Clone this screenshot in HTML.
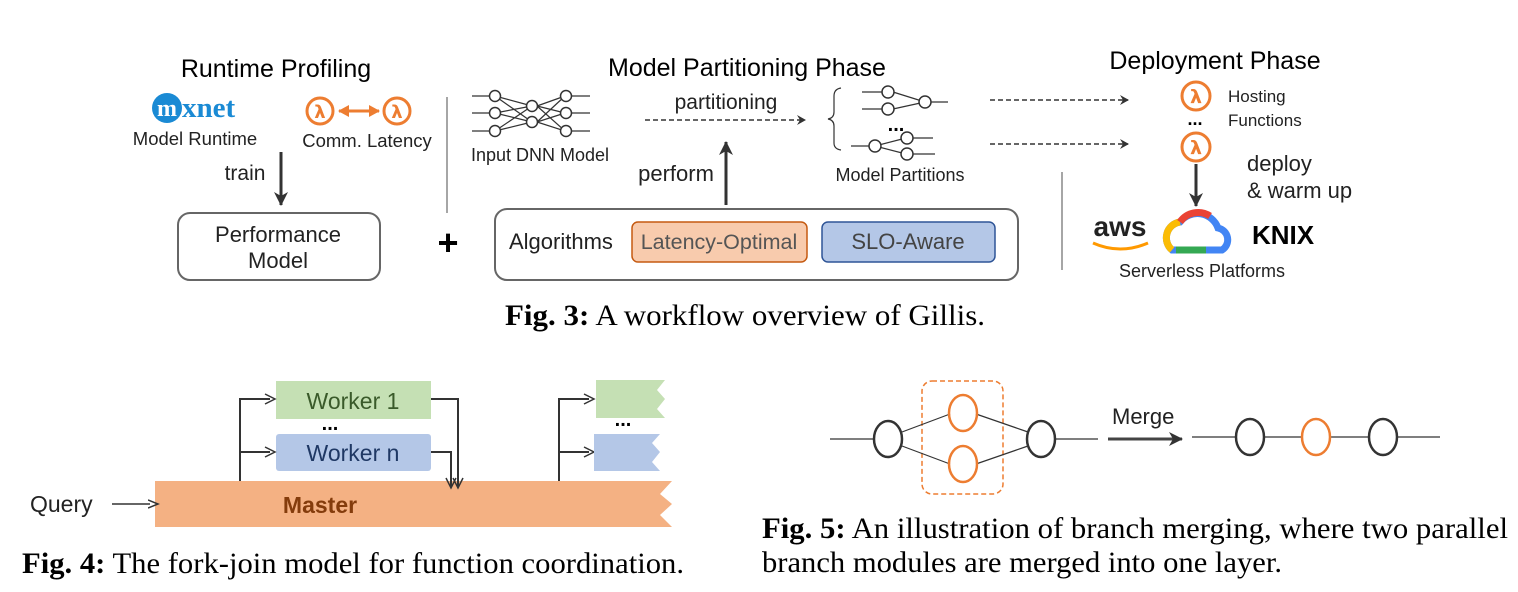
<!DOCTYPE html>
<html><head><meta charset="utf-8"><style>body{margin:0;background:#fff}svg{display:block}</style></head><body>
<svg width="1518" height="592" viewBox="0 0 1518 592" xmlns="http://www.w3.org/2000/svg" font-family="Liberation Sans, sans-serif">
<defs>
<marker id="a" markerWidth="10" markerHeight="10" refX="8" refY="5" orient="auto" markerUnits="userSpaceOnUse"><path d="M0,0 L9,5 L0,10 L3,5z" fill="#333"/></marker>
<marker id="b" markerWidth="16" markerHeight="16" refX="13" refY="8" orient="auto" markerUnits="userSpaceOnUse"><path d="M0,1 L14,8 L0,15 L4,8z" fill="#333"/></marker>
<marker id="o" markerWidth="12" markerHeight="12" refX="10" refY="6" orient="auto-start-reverse" markerUnits="userSpaceOnUse"><path d="M0,0 L11,6 L0,12z" fill="#ed7d31"/></marker>
<marker id="s" markerWidth="12" markerHeight="12" refX="2" refY="6" orient="auto" markerUnits="userSpaceOnUse"><path d="M0,2 L10,6 L0,10" fill="none" stroke="#333" stroke-width="1.5"/></marker>
</defs>
<!-- Fig 3 -->
<text x="276" y="77" font-size="25" text-anchor="middle">Runtime Profiling</text>
<circle cx="167" cy="108" r="15" fill="#1a8ad4"/>
<text x="167" y="116" font-size="24" font-weight="bold" fill="#fff" text-anchor="middle" font-family="Liberation Serif, serif">m</text>
<text x="182" y="117" font-size="29" font-weight="bold" fill="#1a8ad4" font-family="Liberation Serif, serif">xnet</text>
<text x="195" y="145" font-size="18.5" text-anchor="middle" fill="#222">Model Runtime</text>
<g fill="none" stroke="#ed7d31" stroke-width="3"><circle cx="320" cy="111" r="13"/><circle cx="397" cy="111" r="13"/></g>
<text x="320" y="118" font-size="18" font-weight="bold" fill="#ed7d31" text-anchor="middle" font-family="DejaVu Sans, sans-serif">λ</text>
<text x="397" y="118" font-size="18" font-weight="bold" fill="#ed7d31" text-anchor="middle" font-family="DejaVu Sans, sans-serif">λ</text>
<line x1="339" y1="111" x2="379" y2="111" stroke="#ed7d31" stroke-width="3" marker-start="url(#o)" marker-end="url(#o)"/>
<text x="367" y="147" font-size="18.5" text-anchor="middle" fill="#222">Comm. Latency</text>
<text x="245" y="180" font-size="21" text-anchor="middle" fill="#222">train</text>
<line x1="281" y1="152" x2="281" y2="205" stroke="#333" stroke-width="3" marker-end="url(#b)"/>
<rect x="178" y="213" width="202" height="67" rx="12" fill="none" stroke="#666" stroke-width="2"/>
<text x="278" y="242" font-size="22" text-anchor="middle" fill="#222">Performance</text>
<text x="278" y="268" font-size="22" text-anchor="middle" fill="#222">Model</text>
<line x1="447" y1="97" x2="447" y2="213" stroke="#888" stroke-width="1.5"/>
<text x="448" y="255" font-size="36" font-weight="bold" text-anchor="middle">+</text>
<!-- input DNN -->
<g stroke="#333" stroke-width="1.2" fill="none">
<line x1="472" y1="96" x2="490" y2="96"/><line x1="472" y1="113" x2="490" y2="113"/><line x1="472" y1="131" x2="490" y2="131"/>
<line x1="495" y1="96" x2="532" y2="106"/><line x1="495" y1="96" x2="532" y2="122"/><line x1="495" y1="113" x2="532" y2="106"/><line x1="495" y1="113" x2="532" y2="122"/><line x1="495" y1="131" x2="532" y2="106"/><line x1="495" y1="131" x2="532" y2="122"/>
<line x1="537" y1="106" x2="565" y2="96"/><line x1="537" y1="106" x2="565" y2="113"/><line x1="537" y1="106" x2="565" y2="131"/><line x1="537" y1="122" x2="565" y2="96"/><line x1="537" y1="122" x2="565" y2="113"/><line x1="537" y1="122" x2="565" y2="131"/>
<line x1="570" y1="96" x2="590" y2="96"/><line x1="570" y1="113" x2="590" y2="113"/><line x1="570" y1="131" x2="590" y2="131"/>
</g>
<g stroke="#333" stroke-width="1.5" fill="#fff"><circle cx="495" cy="96" r="5.5"/><circle cx="495" cy="113" r="5.5"/><circle cx="495" cy="131" r="5.5"/><circle cx="532" cy="106" r="5.5"/><circle cx="532" cy="122" r="5.5"/><circle cx="566" cy="96" r="5.5"/><circle cx="566" cy="113" r="5.5"/><circle cx="566" cy="131" r="5.5"/></g>
<text x="540" y="161" font-size="18" text-anchor="middle" fill="#222">Input DNN Model</text>
<text x="747" y="76" font-size="25" text-anchor="middle">Model Partitioning Phase</text>
<text x="726" y="109" font-size="21" text-anchor="middle" fill="#222">partitioning</text>
<line x1="645" y1="120" x2="805" y2="120" stroke="#333" stroke-width="1.5" stroke-dasharray="5,3" marker-end="url(#a)"/>
<text x="676" y="181" font-size="22" text-anchor="middle" fill="#222">perform</text>
<line x1="726" y1="205" x2="726" y2="142" stroke="#333" stroke-width="3" marker-end="url(#b)"/>
<rect x="495" y="209" width="523" height="71" rx="12" fill="none" stroke="#666" stroke-width="2"/>
<text x="509" y="249" font-size="22" fill="#222">Algorithms</text>
<rect x="632" y="222" width="175" height="40" rx="6" fill="#f8cbad" stroke="#c55a11" stroke-width="1.5"/>
<text x="719" y="249" font-size="21.5" text-anchor="middle" fill="#555">Latency-Optimal</text>
<rect x="822" y="222" width="173" height="40" rx="6" fill="#b4c7e7" stroke="#2f5597" stroke-width="1.5"/>
<text x="908" y="249" font-size="22" text-anchor="middle" fill="#444">SLO-Aware</text>
<path d="M841,88 Q834,89 834,96 L834,112 Q834,118 828,119 Q834,120 834,126 L834,143 Q834,149 841,150" fill="none" stroke="#333" stroke-width="1.2"/>
<g stroke="#333" stroke-width="1.2" fill="none">
<line x1="862" y1="92" x2="888" y2="92"/><line x1="862" y1="109" x2="888" y2="109"/><line x1="893" y1="92" x2="925" y2="102"/><line x1="893" y1="109" x2="925" y2="102"/><line x1="930" y1="102" x2="948" y2="102"/>
<line x1="851" y1="146" x2="870" y2="146"/><line x1="875" y1="146" x2="906" y2="138"/><line x1="875" y1="146" x2="906" y2="154"/><line x1="910" y1="138" x2="933" y2="138"/><line x1="910" y1="154" x2="935" y2="154"/>
</g>
<g stroke="#333" stroke-width="1.5" fill="#fff"><circle cx="888" cy="92" r="6"/><circle cx="888" cy="109" r="6"/><circle cx="925" cy="102" r="6"/><circle cx="875" cy="146" r="6"/><circle cx="907" cy="138" r="6"/><circle cx="907" cy="154" r="6"/></g>
<text x="896" y="131" font-size="20" font-weight="bold" text-anchor="middle">...</text>
<text x="900" y="181" font-size="18" text-anchor="middle" fill="#222">Model Partitions</text>
<line x1="990" y1="100" x2="1128" y2="100" stroke="#333" stroke-width="1.5" stroke-dasharray="5,3" marker-end="url(#a)"/>
<line x1="990" y1="144" x2="1128" y2="144" stroke="#333" stroke-width="1.5" stroke-dasharray="5,3" marker-end="url(#a)"/>
<text x="1215" y="69" font-size="25" text-anchor="middle">Deployment Phase</text>
<g fill="none" stroke="#ed7d31" stroke-width="3"><circle cx="1196" cy="96" r="14"/><circle cx="1196" cy="147" r="14"/></g>
<text x="1196" y="103" font-size="19" font-weight="bold" fill="#ed7d31" text-anchor="middle" font-family="DejaVu Sans, sans-serif">λ</text>
<text x="1196" y="154" font-size="19" font-weight="bold" fill="#ed7d31" text-anchor="middle" font-family="DejaVu Sans, sans-serif">λ</text>
<text x="1195" y="125" font-size="18" font-weight="bold" text-anchor="middle">...</text>
<text x="1228" y="102" font-size="17" fill="#222">Hosting</text>
<text x="1228" y="126" font-size="17" fill="#222">Functions</text>
<line x1="1196" y1="164" x2="1196" y2="206" stroke="#333" stroke-width="3" marker-end="url(#b)"/>
<text x="1247" y="171" font-size="22" fill="#222">deploy</text>
<text x="1247" y="198" font-size="22" fill="#222">&amp; warm up</text>
<line x1="1062" y1="172" x2="1062" y2="270" stroke="#888" stroke-width="1.5"/>
<text x="1120" y="236" font-size="28" font-weight="bold" text-anchor="middle" fill="#222">aws</text>
<path d="M1093,243 Q1120,255 1148,243" fill="none" stroke="#f90" stroke-width="3"/>
<path d="M1172,250 a16,16 0 0 1 8,-28 a22,22 0 0 1 38,6 a12,12 0 0 1 4,22 z" fill="none" stroke="#4285f4" stroke-width="7"/>
<path d="M1172,250 a16,16 0 0 1 8,-28" fill="none" stroke="#fbbc05" stroke-width="7"/>
<path d="M1180,222 a22,22 0 0 1 30,-6" fill="none" stroke="#ea4335" stroke-width="7"/>
<path d="M1176,250 L1206,250" fill="none" stroke="#34a853" stroke-width="7"/>
<text x="1252" y="244" font-size="26" font-weight="bold">KNIX</text>
<text x="1202" y="277" font-size="18" text-anchor="middle" fill="#222">Serverless Platforms</text>
<text x="745" y="325" font-size="30" text-anchor="middle" font-family="Liberation Serif, serif" textLength="480" lengthAdjust="spacingAndGlyphs"><tspan font-weight="bold">Fig. 3:</tspan> A workflow overview of Gillis.</text>
<!-- Fig 4 -->
<rect x="276" y="381" width="155" height="38" fill="#c5e0b4"/>
<text x="353" y="409" font-size="23" text-anchor="middle" fill="#3a5a2a">Worker 1</text>
<rect x="276" y="434" width="155" height="37" rx="3" fill="#b4c7e7"/>
<text x="353" y="461" font-size="23" text-anchor="middle" fill="#1f3864">Worker n</text>
<text x="330" y="430" font-size="20" font-weight="bold" text-anchor="middle">...</text>
<path d="M155,481 L672,481 L660,494 L672,504 L660,515 L672,527 L155,527 Z" fill="#f4b183"/>
<text x="320" y="513" font-size="23" font-weight="bold" text-anchor="middle" fill="#843c0c">Master</text>
<text x="30" y="512" font-size="23" fill="#222">Query</text>
<line x1="112" y1="504" x2="150" y2="504" stroke="#333" stroke-width="1.5" marker-end="url(#s)"/>
<g fill="none" stroke="#333" stroke-width="2">
<path d="M240,481 L240,399 L270,399"/><path d="M240,452 L270,452"/>
<path d="M431,399 L458,399 L458,486"/><path d="M431,452 L451,452 L451,487"/>
<path d="M559,481 L559,399 L589,399"/><path d="M559,452 L589,452"/>
</g>
<g fill="none" stroke="#333" stroke-width="1.5"><path d="M265,394 L275,399 L265,404"/><path d="M265,447 L275,452 L265,457"/><path d="M584,394 L594,399 L584,404"/><path d="M584,447 L594,452 L584,457"/><path d="M453,478 L458,488 L463,478"/><path d="M446,478 L451,488 L456,478"/></g>
<path d="M596,380 L665,380 L657,390 L665,399 L657,409 L665,418 L596,418 Z" fill="#c5e0b4"/>
<path d="M594,434 L660,434 L652,443 L660,452 L652,462 L660,471 L594,471 Z" fill="#b4c7e7"/>
<text x="623" y="426" font-size="20" font-weight="bold" text-anchor="middle">...</text>
<text x="22" y="573" font-size="30" font-family="Liberation Serif, serif" textLength="662" lengthAdjust="spacingAndGlyphs"><tspan font-weight="bold">Fig. 4:</tspan> The fork-join model for function coordination.</text>
<!-- Fig 5 -->
<rect x="922" y="381" width="81" height="113" rx="10" fill="none" stroke="#ed7d31" stroke-width="1.5" stroke-dasharray="5,3"/>
<g stroke="#333" stroke-width="1.2">
<line x1="830" y1="439" x2="874" y2="439"/><line x1="902" y1="432" x2="950" y2="414"/><line x1="902" y1="446" x2="950" y2="464"/>
<line x1="976" y1="414" x2="1028" y2="432"/><line x1="976" y1="464" x2="1028" y2="446"/><line x1="1054" y1="439" x2="1098" y2="439"/>
<line x1="1192" y1="437" x2="1236" y2="437"/><line x1="1264" y1="437" x2="1302" y2="437"/><line x1="1330" y1="437" x2="1369" y2="437"/><line x1="1397" y1="437" x2="1440" y2="437"/>
</g>
<g fill="none" stroke-width="2.5">
<ellipse cx="888" cy="439" rx="14" ry="18" stroke="#333"/><ellipse cx="1041" cy="439" rx="14" ry="18" stroke="#333"/>
<ellipse cx="963" cy="413" rx="14" ry="18" stroke="#ed7d31"/><ellipse cx="963" cy="464" rx="14" ry="18" stroke="#ed7d31"/>
<ellipse cx="1250" cy="437" rx="14" ry="18" stroke="#333"/><ellipse cx="1316" cy="437" rx="14" ry="18" stroke="#ed7d31"/><ellipse cx="1383" cy="437" rx="14" ry="18" stroke="#333"/>
</g>
<text x="1112" y="424" font-size="22" fill="#222">Merge</text>
<line x1="1108" y1="439" x2="1182" y2="439" stroke="#444" stroke-width="3" marker-end="url(#b)"/>
<text x="762" y="538" font-size="30" font-family="Liberation Serif, serif" textLength="746" lengthAdjust="spacingAndGlyphs"><tspan font-weight="bold">Fig. 5:</tspan> An illustration of branch merging, where two parallel</text>
<text x="762" y="572" font-size="30" font-family="Liberation Serif, serif" textLength="520" lengthAdjust="spacingAndGlyphs">branch modules are merged into one layer.</text>
</svg>
</body></html>
